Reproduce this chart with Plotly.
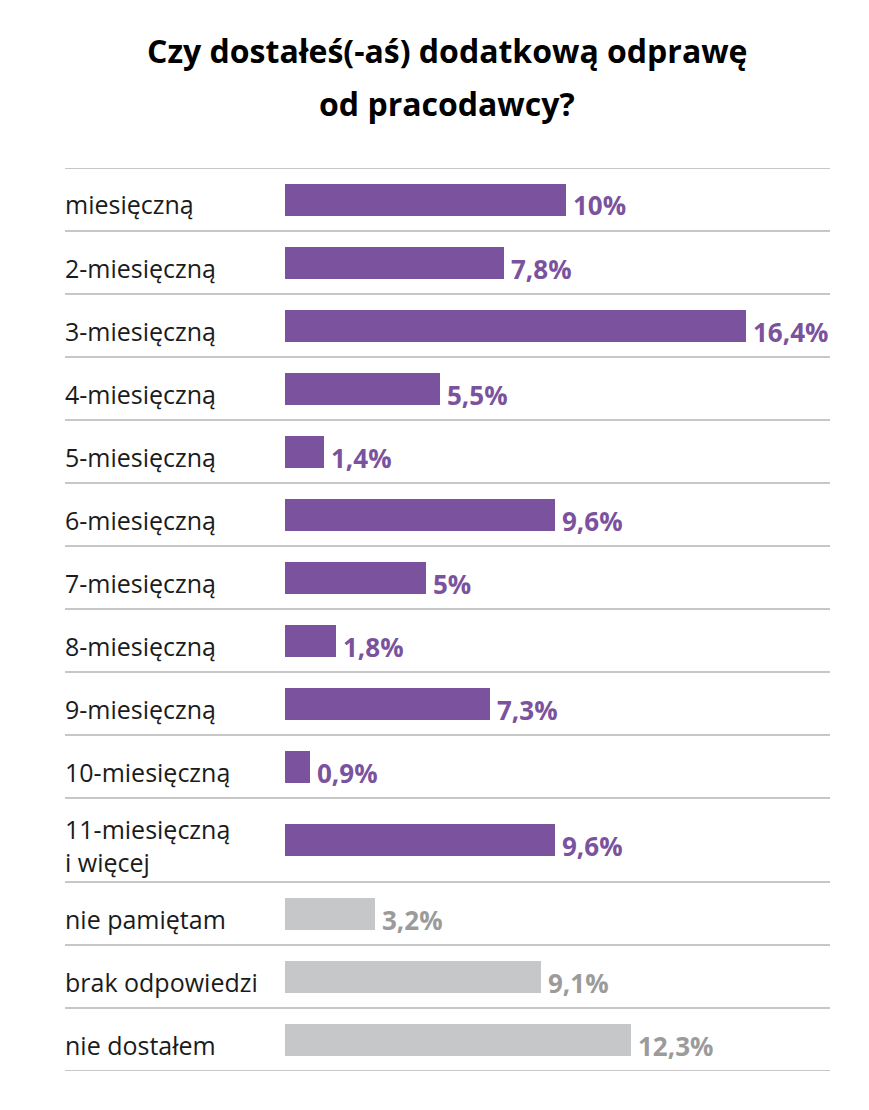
import plotly.graph_objects as go

title_lines = ["Czy dostałeś(-aś) dodatkową odprawę", "od pracodawcy?"]
categories = ["miesięczną", "2-miesięczną", "3-miesięczną", "4-miesięczną", "5-miesięczną",
              "6-miesięczną", "7-miesięczną", "8-miesięczną", "9-miesięczną", "10-miesięczną",
              "11-miesięczną<br>i więcej", "nie pamiętam", "brak odpowiedzi", "nie dostałem"]
values = [10, 7.8, 16.4, 5.5, 1.4, 9.6, 5, 1.8, 7.3, 0.9, 9.6, 3.2, 9.1, 12.3]
value_labels = ["10%", "7,8%", "16,4%", "5,5%", "1,4%", "9,6%", "5%", "1,8%", "7,3%", "0,9%",
                "9,6%", "3,2%", "9,1%", "12,3%"]
is_grey = [False] * 11 + [True] * 3
row_heights = [1] * 10 + [4 / 3] + [1] * 3

W, H = 869, 1110
OFF = 8  # page body margin offset
PURPLE = "#7a529e"
GREY_BAR = "#c6c7c9"
GREY_TXT = "#9b9b9b"
LINE = "#b4b4b4"

plot_left, plot_right = 65 - OFF, 830 - OFF
plot_top, plot_bottom = 168 - OFF, 1071 - OFF
bar_zero_px = 285 - OFF
px_per_unit = (746 - 285) / 16.4

bounds = [0]
for h in row_heights:
    bounds.append(bounds[-1] + h)
centers = [(bounds[i] + bounds[i + 1]) / 2 for i in range(len(row_heights))]
total = bounds[-1]

colors = [GREY_BAR if g else PURPLE for g in is_grey]
txt_colors = [GREY_TXT if g else PURPLE for g in is_grey]

fig = go.Figure()
fig.add_trace(go.Bar(
    x=values, y=centers, orientation="h", width=32 / 63,
    marker=dict(color=colors, line=dict(width=0)),
    hoverinfo="skip", showlegend=False,
))

annotations = []
for c, v, lab, tc, cat in zip(centers, values, value_labels, txt_colors, categories):
    annotations.append(dict(
        x=v, y=c, xref="x", yref="y", text=f"<b>{lab}</b>", showarrow=False,
        xanchor="left", yanchor="middle", xshift=5, yshift=-6,
        font=dict(family="Open Sans", size=26, color=tc),
    ))
    annotations.append(dict(
        x=plot_left / W, y=c, xref="paper", yref="y", text=cat, showarrow=False,
        xanchor="left", yanchor="middle", align="left", xshift=-2, yshift=-5,
        font=dict(family="Open Sans", size=25, color="#1b1b1b"),
    ))

title_y = [50 - OFF, 103 - OFF]
for t, yp in zip(title_lines, title_y):
    annotations.append(dict(
        x=(447 - OFF) / W, y=1 - yp / H, xref="paper", yref="paper", text=f"<b>{t}</b>",
        showarrow=False, xanchor="center", yanchor="middle",
        font=dict(family="Open Sans", size=32, color="#000000"),
    ))

shapes = []
for b in bounds:
    shapes.append(dict(
        type="line", xref="paper", yref="y", x0=plot_left / W, x1=plot_right / W,
        y0=b, y1=b, line=dict(color=LINE, width=1.5),
    ))

fig.update_layout(
    width=W, height=H, autosize=False,
    margin=dict(l=0, r=0, t=0, b=0),
    paper_bgcolor="white", plot_bgcolor="white",
    xaxis=dict(domain=[plot_left / W, plot_right / W],
               range=[-(bar_zero_px - plot_left) / px_per_unit, (plot_right - bar_zero_px) / px_per_unit],
               visible=False, fixedrange=True),
    yaxis=dict(domain=[1 - plot_bottom / H, 1 - plot_top / H], range=[total, 0],
               visible=False, fixedrange=True),
    annotations=annotations, shapes=shapes,
    bargap=0,
)

fig.write_html("out.html")
